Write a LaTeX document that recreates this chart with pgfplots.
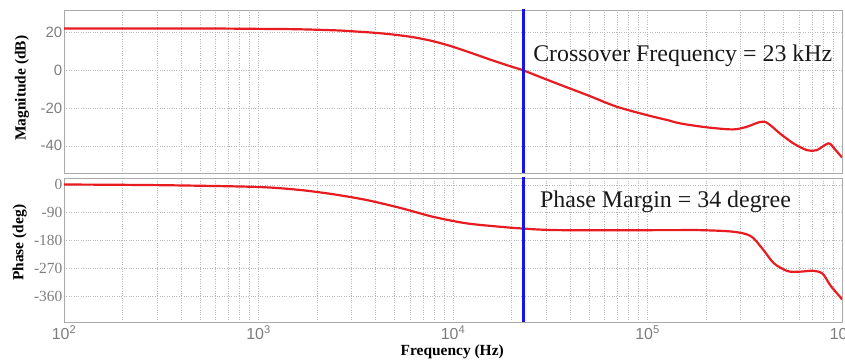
\documentclass[border=0pt]{standalone}
\usepackage{pgfplots}
\pgfplotsset{compat=1.18}
\usepackage{fontspec}
\setmainfont{Liberation Serif}
\setsansfont{Liberation Sans}

\definecolor{curvered}{RGB}{232,28,32}
\definecolor{lineblue}{RGB}{20,20,235}
\definecolor{axgray}{RGB}{170,170,170}
\definecolor{tickgray}{RGB}{125,125,125}
\definecolor{gridgray}{RGB}{185,185,185}

\pgfplotstableread{
f dB
100 22.2
500 22.2
1000 22.0
1585 21.8
2512 21.2
3162 20.6
3981 19.9
5012 18.9
6310 17.5
7943 15.4
10000 12.5
12589 9.0
15849 5.4
19953 2.0
23000 0.0
28184 -3.6
35481 -7.6
50119 -13.5
69183 -19.2
100000 -23.8
126000 -26.3
147000 -28.1
202000 -30.2
275000 -31.3
324000 -29.9
398000 -27.2
479000 -33.4
562000 -38.7
661000 -42.3
741000 -42.3
851000 -38.7
912000 -41.4
1000000 -46.2
}\magtable

\pgfplotstableread{
f deg
100 1
200 0
400 -2
1000 -7
1600 -16
2400 -30
3600 -49
5400 -75
7900 -103
11700 -124
17400 -135
23000 -141
35500 -146
126000 -146
186000 -146
275000 -151
339000 -165
389000 -205
447000 -253
525000 -278
603000 -280
708000 -277
794000 -286
871000 -324
977000 -361
1000000 -370
}\phasetable

\pgfplotsset{
  bode/.style={
    scale only axis, width=778bp,
    xmin=100, xmax=1e6,
    axis line style={axgray, line width=0.9pt},
    major tick length=0pt, minor tick length=0pt,
    xmajorgrids, xminorgrids, ymajorgrids,
    major grid style={gridgray, dotted, line width=0.6pt},
    minor grid style={gridgray, dotted, line width=0.6pt},
    tick label style={tickgray},
    yticklabel style={inner xsep=1.5bp},
    clip=true,
  }
}

\begin{document}
\begin{tikzpicture}
\begin{axis}[xmode=log, bode,
  at={(64bp,190bp)}, anchor=south west, height=163bp,
  ymin=-54.4, ymax=32,
  ytick={-40,-20,0,20}, yticklabels={-40,-20,0,20},
  yticklabel style={font=\sffamily\fontsize{15}{15}\selectfont},
  xticklabels={},
  ylabel={Magnitude (dB)},
  ylabel style={at={(axis description cs:-0.054,0.52)}, anchor=center,
    font=\bfseries\fontsize{15.5}{15.5}\selectfont},
]
\addplot[curvered, line width=2.2pt, smooth, tension=0.5] table[x=f, y=dB] {\magtable};
\addplot[lineblue, line width=2.8pt] coordinates {(23000,-60) (23000,40)};
\node[anchor=base west, inner sep=0pt, font=\fontsize{24}{24}\selectfont, text=black!90]
  at (axis cs:25800,4.6) {Crossover Frequency = 23 kHz};
\end{axis}

\begin{axis}[xmode=log, bode,
  at={(64bp,41bp)}, anchor=south west, height=144bp,
  ymin=-442, ymax=22,
  ytick={-360,-270,-180,-90,0}, yticklabels={-360,-270,-180,-90,0},
  yticklabel style={font=\fontsize{15.5}{15.5}\selectfont},
  xtick={100,1000,10000,100000,1000000},
  xticklabels={10\textsuperscript{2},10\textsuperscript{3},10\textsuperscript{4},10\textsuperscript{5},10\textsuperscript{6}},
  xticklabel style={font=\sffamily\fontsize{16}{16}\selectfont},
  ylabel={Phase (deg)},
  ylabel style={at={(axis description cs:-0.057,0.55)}, anchor=center,
    font=\bfseries\fontsize{15.5}{15.5}\selectfont},
  xlabel={Frequency (Hz)},
  xlabel style={at={(axis description cs:0.499,-0.208)}, anchor=center,
    font=\bfseries\fontsize{15.5}{15.5}\selectfont},
]
\addplot[curvered, line width=2.2pt, smooth, tension=0.5] table[x=f, y=deg] {\phasetable};
\addplot[lineblue, line width=2.8pt] coordinates {(23000,-500) (23000,40)};
\node[anchor=base west, inner sep=0pt, font=\fontsize{24}{24}\selectfont, text=black!90]
  at (axis cs:28000,-72) {Phase Margin = 34 degree};
\end{axis}
\pgfresetboundingbox
\path[use as bounding box] (0,0) rectangle (845bp,363bp);
\end{tikzpicture}
\end{document}
